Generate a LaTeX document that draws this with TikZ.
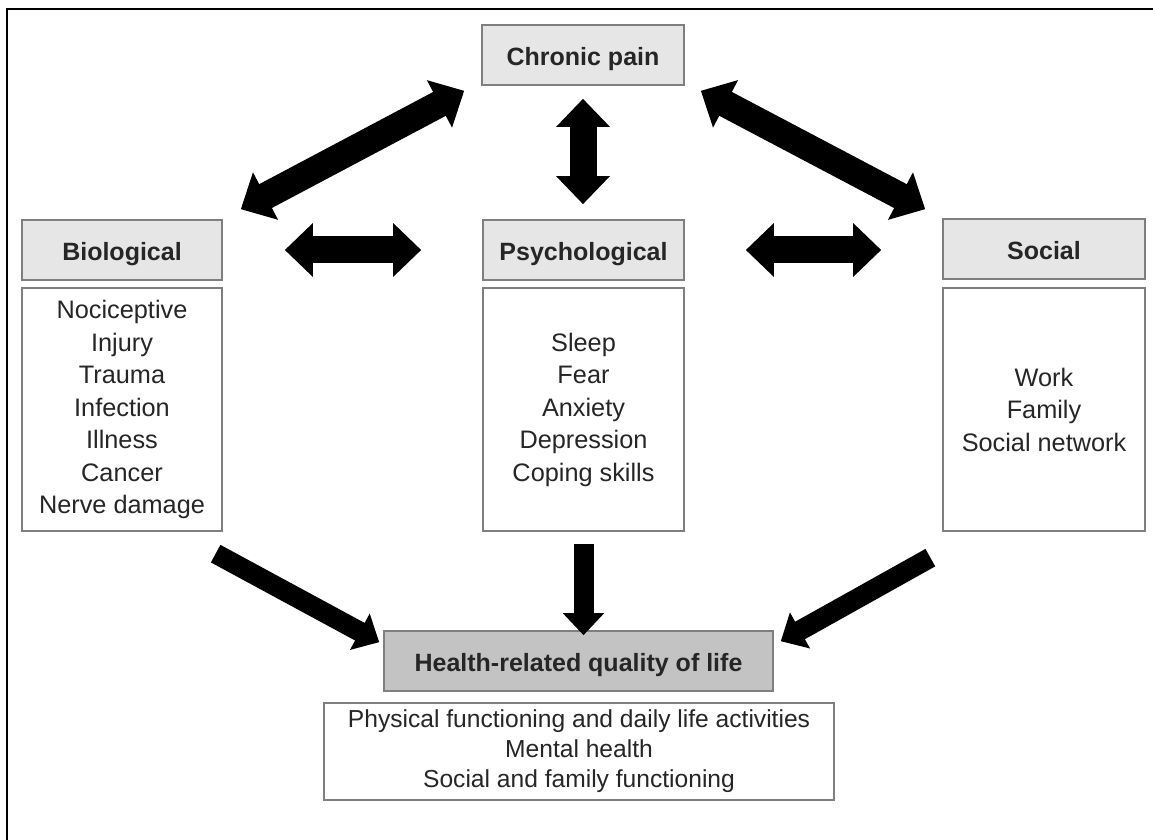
\documentclass[tikz,border=0pt]{standalone}
\usepackage{fontspec}
\setmainfont{Liberation Sans}
\usetikzlibrary{arrows.meta,calc}
\definecolor{boxline}{HTML}{7F7F7F}
\definecolor{headfill}{HTML}{E6E6E6}
\definecolor{hqfill}{HTML}{C3C3C3}
\definecolor{txt}{HTML}{262626}
\tikzset{
  hdr/.style={draw=boxline, line width=1.6pt, fill=headfill, minimum height=60pt, inner sep=0pt, text=txt, text height=22pt, text depth=0pt, font=\fontsize{25}{29}\selectfont\bfseries},
  bodybox/.style={draw=boxline, line width=1.3pt, fill=white, inner sep=0pt, text=txt, align=center, font=\fontsize{25.3}{32.5}\selectfont},
  bigdbl/.style={line width=27pt, {Triangle[width=52pt,length=28pt]}-{Triangle[width=52pt,length=28pt]}},
  smallarr/.style={line width=20pt, -{Triangle[width=40pt,length=22pt]}},
}
\begin{document}
\begin{tikzpicture}[x=1pt,y=1pt]
\useasboundingbox (0,0) rectangle (1153,840);
\draw[line width=2.6pt] (7,0) -- (7,831) -- (1153,831);

\node[hdr, minimum width=202pt] (cp) at (583,785) {Chronic pain};
\node[hdr, minimum width=200pt] (bio) at (122,590) {Biological};
\node[hdr, minimum width=201pt] (psy) at (583.5,590) {Psychological};
\node[hdr, minimum width=202pt] (soc) at (1044,591) {Social};

\node[bodybox, minimum width=200pt, minimum height=243pt] (biobody) at (122,430.5)
  {Nociceptive\\Injury\\Trauma\\Infection\\Illness\\Cancer\\Nerve damage};
\node[bodybox, minimum width=201pt, minimum height=243pt] (psybody) at (583.5,430.5)
  {Sleep\\Fear\\Anxiety\\Depression\\Coping skills};
\node[bodybox, minimum width=202pt, minimum height=243pt] (socbody) at (1044,430.5)
  {Work\\Family\\Social network};

\node[hdr, fill=hqfill, minimum width=389pt] (hq) at (578.5,179) {Health-related quality of life};
\node[bodybox, minimum width=510pt, minimum height=97pt, font=\fontsize{24.6}{30}\selectfont] (qol) at (579,88.5)
  {Physical functioning and daily life activities\\Mental health\\Social and family functioning};

% double arrows
\draw[bigdbl] ($(bio.north east)+(18,10)$) -- ($(cp.south west)+(-17,-5)$);
\draw[bigdbl, shorten <=13pt, shorten >=15pt] (cp.south) -- (cp.south |- psy.north);
\draw[bigdbl] ($(cp.south east)+(16,-5)$) -- ($(soc.north west)+(-17,9)$);
\draw[bigdbl, shorten <=62pt, shorten >=61pt] (bio.east) -- (psy.west);
\draw[bigdbl, shorten <=61pt, shorten >=61pt] (psy.east) -- (psy.east -| soc.west);

% single arrows
\draw[smallarr] ($(biobody.south east)+(-7,-22)$) -- ($(hq.north west)+(-4,-12)$);
\draw[smallarr, shorten <=12pt, shorten >=-5pt] (psybody.south) -- (psybody.south |- hq.north);
\draw[smallarr] ($(socbody.south west)+(-12,-26)$) -- ($(hq.north east)+(7,-11)$);
\end{tikzpicture}
\end{document}
